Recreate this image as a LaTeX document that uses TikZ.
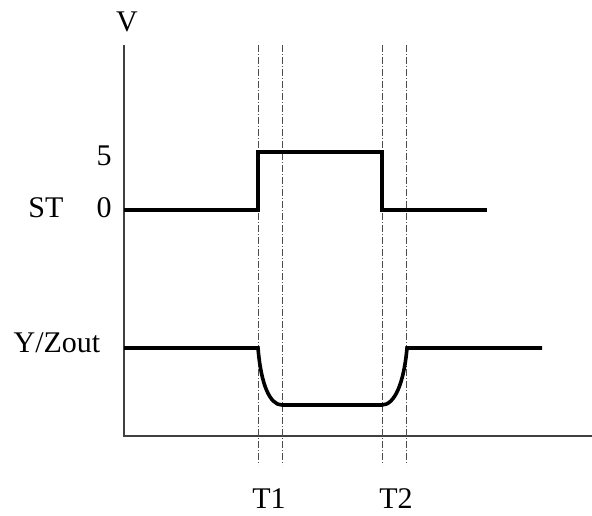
\documentclass[tikz,border=0pt]{standalone}
\usepackage{fontspec}
\setmainfont{Liberation Serif}
\begin{document}
\begin{tikzpicture}[x=1pt,y=-1pt,
  lbl/.style={font=\fontsize{30}{34}\selectfont, anchor=base, inner sep=0pt},
  sig/.style={line width=3.6pt, line join=miter},
  axisline/.style={line width=1.2pt, draw=black!75},
  guide/.style={line width=0.7pt, draw=black!70, dash pattern=on 7pt off 2pt on 1pt off 2pt}]
\useasboundingbox (0,0) rectangle (592,516);
% axes
\coordinate (o) at (124,436);
\coordinate (ytop) at (124,45);
\coordinate (xend) at (592,436);
\draw[axisline] (ytop) -- (o) -- (xend);
% guides
\foreach \x/\n in {258/a,282/b,382/c,406/d}{
  \coordinate (g\n t) at (\x,45);
  \coordinate (g\n b) at (\x,465);
  \draw[guide] (g\n t) -- (g\n b);
}
% ST signal
\coordinate (s0) at (124,210);
\coordinate (s1) at (258,210);
\coordinate (s2) at (258,152);
\coordinate (s3) at (382,152);
\coordinate (s4) at (382,210);
\coordinate (s5) at (487,210);
\draw[sig] (s0) -- (s1) -- (s2) -- (s3) -- (s4) -- (s5);
% Y/Zout signal
\coordinate (y0) at (124,348);
\coordinate (y1) at (258,348);
\coordinate (y2) at (282,405);
\coordinate (y3) at (382,405);
\coordinate (y4) at (407,348);
\coordinate (y5) at (542,348);
\draw[sig] (y0) -- (y1) .. controls (261,385) and (270,405) .. (y2) -- (y3) .. controls (395,405) and (404,382) .. (y4) -- (y5);
% labels
\node[lbl] (lV) at (127,32) {V};
\node[lbl] (l5) at (104,166) {5};
\node[lbl] (l0) at (104,218) {0};
\node[lbl] (lST) at (46,218) {ST};
\node[lbl] (lY) at (57,352) {Y/Zout};
\node[lbl] (lT1) at (269,508) {T1};
\node[lbl] (lT2) at (396,508) {T2};
\end{tikzpicture}
\end{document}
